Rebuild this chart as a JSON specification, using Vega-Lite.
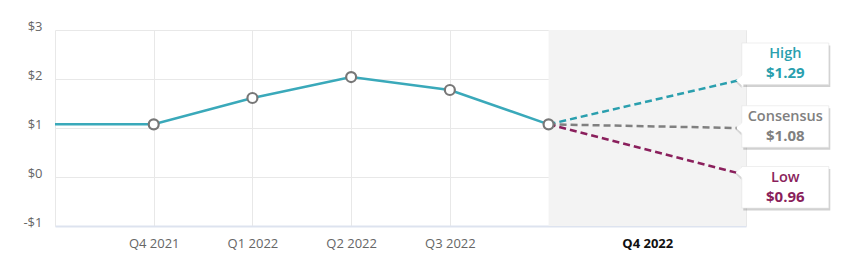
{
  "$schema": "https://vega.github.io/schema/vega-lite/v6.json",
  "autosize": {"type": "none"},
  "width": 691,
  "height": 196,
  "padding": {"left": 55, "top": 30, "right": 99, "bottom": 28},
  "background": "white",
  "config": {"view": {"stroke": null}, "font": "Open Sans"},
  "datasets": {
    "actual": [
      {"q": -1, "eps": 1.075},
      {"q": 0, "eps": 1.075},
      {"q": 1, "eps": 1.612},
      {"q": 2, "eps": 2.04},
      {"q": 3, "eps": 1.776},
      {"q": 4, "eps": 1.075}
    ],
    "forecast": [
      {"series": "High", "q": 4, "eps": 1.075},
      {"series": "High", "q": 5.92, "eps": 1.97},
      {"series": "Consensus", "q": 4, "eps": 1.075},
      {"series": "Consensus", "q": 5.91, "eps": 1.0},
      {"series": "Low", "q": 4, "eps": 1.075},
      {"series": "Low", "q": 5.9, "eps": 0.09}
    ],
    "labels": [
      {"series": "High", "label": "$1.29", "end": 1.97, "boxY": 2.31},
      {"series": "Consensus", "label": "$1.08", "end": 1.0, "boxY": 1.03},
      {"series": "Low", "label": "$0.96", "end": 0.09, "boxY": -0.21}
    ],
    "shade": [{"start": 4, "stop": 6}]
  },
  "layer": [
    {
      "data": {"name": "shade"},
      "mark": {"type": "rect", "color": "#f3f3f3"},
      "encoding": {
        "x": {"field": "start", "type": "quantitative", "scale": {"domain": [-1, 6], "nice": false, "zero": false},
          "axis": {
            "values": [-1, 0, 1, 2, 3, 4, 5, 6],
            "labelExpr": "datum.value == 0 ? 'Q4 2021' : datum.value == 1 ? 'Q1 2022' : datum.value == 2 ? 'Q2 2022' : datum.value == 3 ? 'Q3 2022' : datum.value == 5 ? 'Q4 2022' : ''",
            "title": null,
            "grid": true,
            "gridColor": "#e8e8e8",
            "gridWidth": 1,
            "ticks": false,
            "domainColor": "#dde3ef",
            "domainWidth": 2,
            "labelPadding": 11,
            "labelFontSize": 13,
            "labelColor": {"condition": {"test": "datum.value == 5", "value": "#111111"}, "value": "#666666"},
            "labelFontWeight": {"condition": {"test": "datum.value == 5", "value": "bold"}, "value": "normal"},
            "labelFlush": false,
            "labelOverlap": false
          }},
        "x2": {"field": "stop"},
        "y": {"datum": 3, "type": "quantitative", "scale": {"domain": [-1, 3], "nice": false},
          "axis": {
            "values": [-1, 0, 1, 2, 3],
            "labelExpr": "datum.value < 0 ? '-$' + abs(datum.value) : '$' + datum.value",
            "title": null,
            "grid": true,
            "gridColor": "#e8e8e8",
            "gridWidth": 1,
            "ticks": false,
            "domain": false,
            "labelPadding": 13,
            "labelFontSize": 13,
            "labelColor": "#666666",
            "labelBaseline": "alphabetic"
          }},
        "y2": {"datum": -1}
      }
    },
    {
      "data": {"name": "forecast"},
      "mark": {"type": "line", "strokeWidth": 2.5, "strokeDash": [7, 4]},
      "encoding": {
        "x": {"field": "q", "type": "quantitative"},
        "y": {"field": "eps", "type": "quantitative"},
        "detail": {"field": "series"},
        "color": {"field": "series", "type": "nominal", "legend": null,
          "scale": {"domain": ["High", "Consensus", "Low"], "range": ["#2a9fae", "#808080", "#8a1f5c"]}}
      }
    },
    {
      "data": {"name": "actual"},
      "mark": {"type": "line", "color": "#3aa9ba", "strokeWidth": 2.5},
      "encoding": {
        "x": {"field": "q", "type": "quantitative"},
        "y": {"field": "eps", "type": "quantitative"}
      }
    },
    {
      "data": {"name": "actual"},
      "transform": [{"filter": "datum.q >= 0"}],
      "mark": {"type": "point", "filled": false, "fill": "white", "stroke": "#777777", "strokeWidth": 2.2, "size": 100, "opacity": 1},
      "encoding": {
        "x": {"field": "q", "type": "quantitative"},
        "y": {"field": "eps", "type": "quantitative"}
      }
    },
    {
      "data": {"name": "labels"},
      "mark": {"type": "point", "shape": "M-1,-0.478 L1,-0.478 L1,0.478 L-1,0.478 Z", "size": 7569, "filled": true, "fill": "#000000", "fillOpacity": 0.18, "strokeWidth": 0, "xOffset": 1.5, "yOffset": 2.5},
      "encoding": {
        "x": {"datum": 6.398, "type": "quantitative"},
        "y": {"field": "boxY", "type": "quantitative"}
      }
    },
    {
      "data": {"name": "labels"},
      "mark": {"type": "point", "shape": "M0,-1 L-1,0 L0,1 Z", "size": 144, "filled": true, "fill": "#000000", "fillOpacity": 0.12, "strokeWidth": 0, "yOffset": 1.5},
      "encoding": {
        "x": {"datum": 5.955, "type": "quantitative"},
        "y": {"field": "end", "type": "quantitative"}
      }
    },
    {
      "data": {"name": "labels"},
      "mark": {"type": "point", "shape": "M-1,-0.478 L1,-0.478 L1,0.478 L-1,0.478 Z", "size": 7569, "filled": true, "fill": "#ffffff", "stroke": "#e4e4e4", "strokeWidth": 0.6, "opacity": 1},
      "encoding": {
        "x": {"datum": 6.398, "type": "quantitative"},
        "y": {"field": "boxY", "type": "quantitative"}
      }
    },
    {
      "data": {"name": "labels"},
      "mark": {"type": "point", "shape": "M0.2,-1 L-1,0 L0.2,1 Z", "size": 144, "filled": true, "fill": "#ffffff", "strokeWidth": 0, "opacity": 1},
      "encoding": {
        "x": {"datum": 5.96, "type": "quantitative"},
        "y": {"field": "end", "type": "quantitative"}
      }
    },
    {
      "data": {"name": "labels"},
      "mark": {"type": "text", "fontSize": 14.5, "fontWeight": 600, "dy": -9.5, "align": "center", "baseline": "middle"},
      "encoding": {
        "x": {"datum": 6.398, "type": "quantitative"},
        "y": {"field": "boxY", "type": "quantitative"},
        "text": {"field": "series"},
        "color": {"field": "series", "type": "nominal", "legend": null}
      }
    },
    {
      "data": {"name": "labels"},
      "mark": {"type": "text", "fontSize": 15, "fontWeight": "bold", "dy": 9.5, "align": "center", "baseline": "middle"},
      "encoding": {
        "x": {"datum": 6.398, "type": "quantitative"},
        "y": {"field": "boxY", "type": "quantitative"},
        "text": {"field": "label"},
        "color": {"field": "series", "type": "nominal", "legend": null}
      }
    }
  ]
}
